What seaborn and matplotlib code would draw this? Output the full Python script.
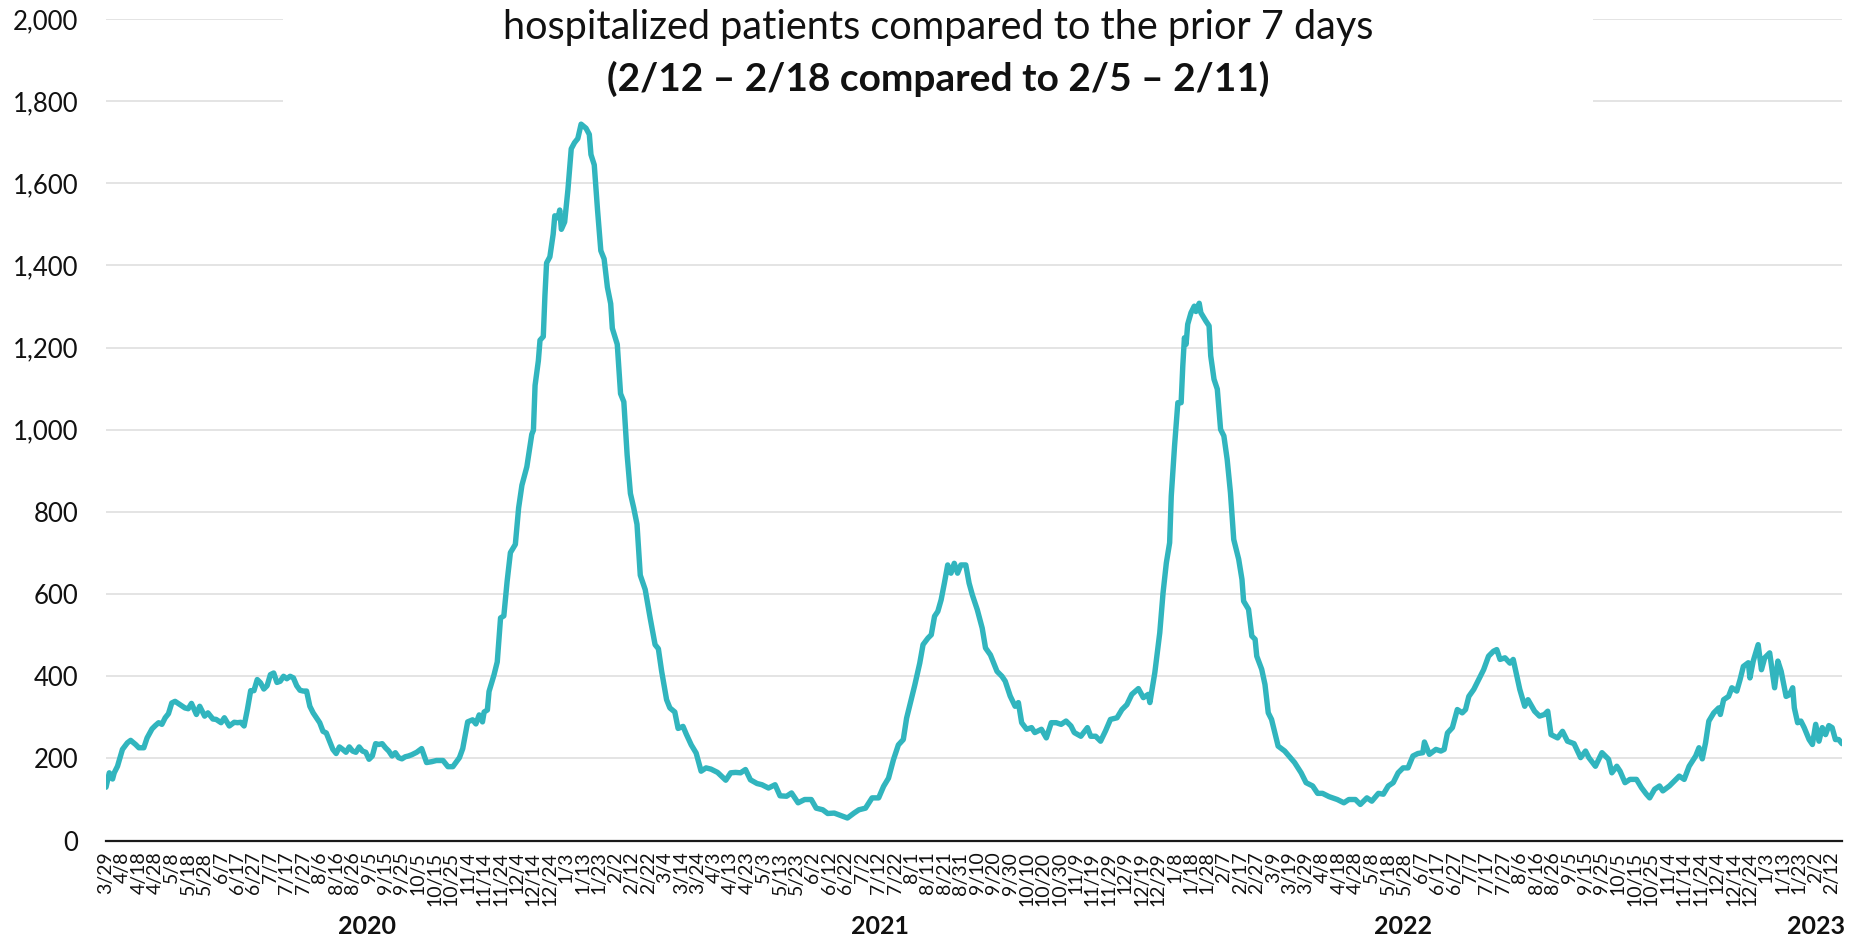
import pandas as pd
import matplotlib.pyplot as plt
import matplotlib.dates as mdates
from matplotlib.patches import Rectangle
import seaborn as sns

# datos (dias desde el 3/29/2020)
start_date = "2020-03-29"
end_date = "2023-02-18"
day_offset = [
    0, 2, 4, 5, 7, 10, 13, 15, 18, 20, 23, 25, 28, 30, 32, 34, 36, 38, 40, 42, 45, 48, 50, 52, 55, 57,
    60, 62, 65, 67, 70, 72, 75, 78, 80, 82, 84, 86, 88, 90, 92, 94, 96, 98, 100, 102, 104, 106, 108,
    110, 112, 114, 116, 118, 120, 122, 124, 126, 128, 130, 132, 134, 136, 138, 140, 142, 144, 146, 148,
    150, 152, 154, 156, 158, 160, 162, 164, 166, 168, 170, 172, 174, 176, 178, 180, 182, 184, 186, 189,
    192, 195, 198, 201, 205, 208, 211, 215, 217, 220, 223, 225, 227, 229, 230, 232, 233, 236, 238, 240,
    242, 244, 246, 249, 251, 253, 256, 259, 260, 261, 263, 264, 266, 267, 268, 270, 272, 273, 275, 276,
    277, 279, 281, 283, 285, 287, 289, 292, 294, 295, 297, 299, 301, 303, 305, 307, 308, 311, 313, 315,
    317, 319, 321, 323, 325, 328, 331, 334, 336, 338, 341, 343, 346, 348, 351, 353, 356, 359, 362, 365,
    368, 372, 377, 380, 383, 386, 389, 392, 396, 399, 403, 407, 410, 414, 417, 421, 425, 429, 432, 436,
    439, 443, 447, 451, 455, 458, 462, 466, 470, 473, 476, 479, 482, 485, 487, 490, 492, 495, 497, 500,
    502, 504, 506, 508, 510, 512, 514, 516, 518, 520, 523, 525, 527, 530, 533, 535, 538, 542, 545, 547,
    550, 553, 555, 557, 560, 563, 565, 569, 572, 575, 578, 581, 584, 587, 589, 593, 597, 599, 602, 605,
    608, 611, 615, 618, 621, 624, 628, 631, 634, 635, 638, 641, 643, 645, 647, 648, 650, 652, 654, 655,
    656, 657, 658, 660, 662, 663, 665, 666, 669, 671, 672, 674, 676, 678, 680, 682, 684, 686, 689, 691,
    692, 695, 697, 699, 700, 703, 705, 707, 709, 711, 713, 717, 720, 723, 727, 730, 734, 737, 740, 744,
    749, 753, 756, 760, 763, 767, 770, 774, 777, 780, 783, 786, 789, 792, 795, 798, 801, 802, 805, 809,
    812, 814, 816, 819, 822, 825, 827, 829, 832, 835, 838, 841, 844, 846, 848, 851, 854, 856, 858, 860,
    863, 865, 869, 872, 875, 877, 879, 883, 886, 889, 893, 897, 900, 902, 906, 910, 914, 916, 919, 921,
    924, 927, 931, 934, 937, 939, 942, 945, 947, 951, 954, 957, 960, 963, 967, 969, 971, 973, 975, 978,
    981, 982, 984, 987, 989, 992, 994, 996, 999, 1000, 1002, 1005, 1007, 1009, 1012, 1015, 1017, 1019,
    1022, 1024, 1026, 1027, 1029, 1031, 1033, 1036, 1038, 1040, 1042, 1044, 1046, 1048, 1050, 1052,
    1054, 1056,
]
patients = [
    130, 165, 150, 165, 181, 222, 238, 244, 234, 226, 226, 250, 272, 280, 287, 283, 299, 309, 335, 339, 331, 323, 321, 334, 307, 327,
    303, 311, 296, 295, 287, 299, 279, 288, 287, 288, 279, 319, 365, 365, 392, 384, 369, 377, 404, 408, 385, 388, 400,
    394, 400, 396, 377, 366, 364, 364, 327, 311, 299, 287, 266, 262, 242, 222, 212, 228, 222, 215, 228,
    218, 215, 228, 218, 215, 198, 206, 236, 234, 236, 226, 218, 206, 214, 202, 199, 204, 206, 209, 215,
    224, 190, 192, 195, 195, 180, 180, 202, 224, 289, 294, 284, 306, 289, 313, 318, 363, 403, 435, 542,
    547, 631, 701, 721, 810, 865, 910, 989, 999, 1108, 1168, 1218, 1227, 1327, 1406, 1421, 1476, 1521, 1516, 1535,
    1488, 1506, 1585, 1684, 1699, 1709, 1744, 1734, 1719, 1670, 1645, 1535, 1436, 1416, 1347, 1307, 1247, 1208, 1088, 1068,
    939, 845, 810, 770, 646, 611, 542, 477, 467, 412, 343, 323, 313, 273, 278, 259, 233, 213, 169, 177,
    174, 166, 147, 165, 166, 165, 173, 148, 139, 136, 128, 136, 109, 108, 116, 92, 100, 100, 79, 75,
    66, 67, 61, 55, 67, 75, 79, 104, 104, 132, 152, 197, 233, 246, 298, 347, 379, 432, 477, 493,
    501, 546, 558, 586, 627, 671, 651, 675, 651, 671, 671, 627, 598, 562, 517, 469, 452, 412, 400, 388,
    352, 327, 336, 287, 271, 275, 263, 271, 250, 287, 287, 283, 291, 279, 263, 254, 275, 254, 254, 242,
    267, 295, 299, 319, 331, 356, 370, 348, 356, 336, 409, 506, 603, 676, 725, 839, 961, 1066, 1066, 1155,
    1224, 1208, 1257, 1285, 1301, 1288, 1308, 1285, 1265, 1253, 1180, 1123, 1099, 1001, 985, 928, 847, 733, 685, 636,
    583, 563, 498, 490, 449, 417, 380, 311, 295, 263, 230, 218, 204, 190, 165, 141, 133, 115, 115, 107,
    100, 92, 100, 100, 88, 104, 96, 115, 113, 133, 141, 165, 177, 177, 206, 212, 214, 240, 210, 222,
    218, 222, 262, 275, 319, 311, 319, 351, 368, 392, 416, 449, 461, 465, 441, 445, 432, 441, 404, 368,
    327, 343, 315, 303, 307, 315, 258, 250, 266, 242, 236, 202, 218, 202, 181, 214, 198, 165, 181, 169,
    141, 149, 149, 129, 113, 104, 125, 133, 121, 133, 145, 157, 149, 181, 206, 226, 199, 238, 291, 311,
    323, 307, 343, 351, 372, 364, 392, 424, 433, 396, 437, 477, 416, 445, 457, 372, 437, 412,
    351, 355, 372, 323, 287, 291, 275, 246, 234, 283, 242, 275, 258, 280, 275, 246,
    246, 236,
]
years = ["2020", "2021", "2022", "2023"]
year_label_dates = ["2020-09-04", "2021-07-13", "2022-05-27", "2023-02-02"]
y_ticks = [0, 200, 400, 600, 800, 1000, 1200, 1400, 1600, 1800, 2000]
title_1 = "hospitalized patients compared to the prior 7 days"
title_2 = "(2/12 \u2013 2/18 compared to 2/5 \u2013 2/11)"

df = pd.DataFrame({"fecha": pd.to_datetime(start_date) + pd.to_timedelta(day_offset, unit="D"),
                   "pacientes": patients})

sns.set_theme(style="white")
plt.rcParams["font.family"] = ["Lato", "DejaVu Sans"]

fig = plt.figure(figsize=(18.56, 9.43), dpi=100)
ax = fig.add_axes([106 / 1856, 1 - 840.6 / 943, (1842 - 106) / 1856, (840.6 - 19) / 943])

sns.lineplot(data=df, x="fecha", y="pacientes", ax=ax, color="#31B5BE", linewidth=3.9, zorder=3)

ax.set_ylim(0, 2000)
ax.set_xlim(pd.to_datetime(start_date), pd.to_datetime(end_date))
ax.set_yticks(y_ticks)
ax.set_yticklabels([f"{v:,}" for v in y_ticks], fontsize=18.5, color="#111111")
ax.tick_params(axis="y", length=0, pad=20)

ticks = pd.date_range(start_date, end_date, freq="10D")
ax.set_xticks(ticks)
ax.set_xticklabels([f"{t.month}/{t.day}" for t in ticks], rotation=90, fontsize=14,
                   ha="center", va="top", color="#111111")
ax.tick_params(axis="x", length=0, pad=8)

ax.grid(axis="y", color="#E4E4E4", linewidth=1.4)
ax.grid(axis="x", visible=False)
for s in ["top", "right", "left"]:
    ax.spines[s].set_visible(False)
ax.spines["bottom"].set_color("#1a1a1a")
ax.spines["bottom"].set_linewidth(1.6)
ax.set_xlabel("")
ax.set_ylabel("")

# caja blanca del titulo que tapa las lineas de la grilla
fig.patches.append(Rectangle((283 / 1856, 1 - 112 / 943), (1593 - 283) / 1856, 112 / 943,
                             transform=fig.transFigure, facecolor="white", edgecolor="none", zorder=1))
fig.text(0.5055, 1 - 27 / 943, title_1, ha="center", va="center", fontsize=28.5, color="#111111", zorder=2)
fig.text(0.5055, 1 - 79 / 943, title_2, ha="center", va="center", fontsize=28, fontweight="bold",
         color="#111111", zorder=2)

for yr, d in zip(years, year_label_dates):
    ax.text(mdates.date2num(pd.to_datetime(d)), -0.104, yr, transform=ax.get_xaxis_transform(),
            ha="center", va="center", fontsize=18, fontweight="bold", color="#111111")

fig.savefig("out.png", dpi=100, facecolor="white")
